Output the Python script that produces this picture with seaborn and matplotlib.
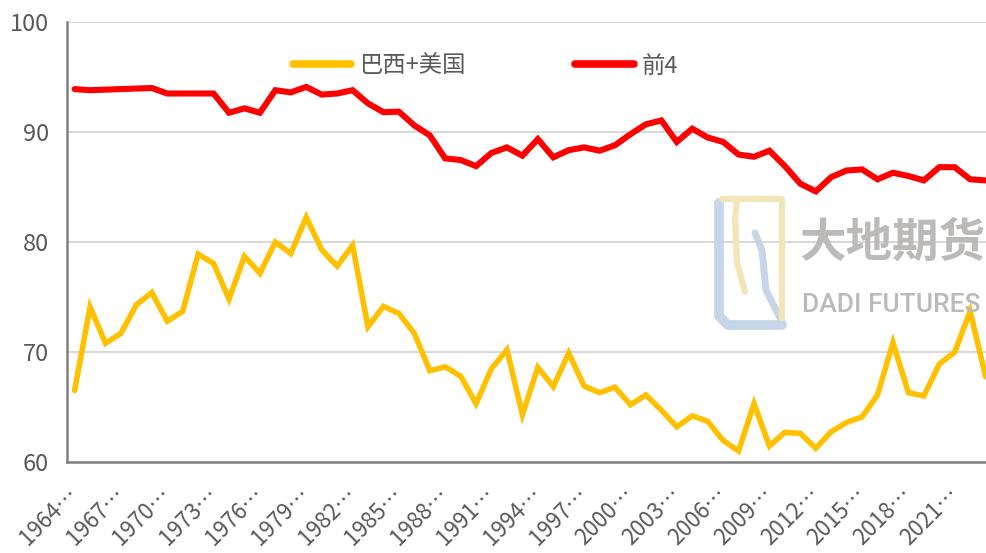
import numpy as np
import pandas as pd
import matplotlib
matplotlib.use("Agg")
import matplotlib.pyplot as plt
import seaborn as sns
from matplotlib.lines import Line2D

# ------------------- data -------------------
years = list(range(1964, 2024))
brazil_us = [66.5, 74.1, 70.8, 71.7, 74.3, 75.4, 72.8, 73.7, 78.9, 78.05,
             74.8, 78.7, 77.15, 80.0, 78.95, 82.25, 79.3, 77.8, 79.7, 72.3,
             74.15, 73.5, 71.7, 68.3, 68.65, 67.8, 65.3, 68.5, 70.2, 64.3,
             68.6, 66.85, 69.9, 66.9, 66.3, 66.8, 65.2, 66.1, 64.7, 63.2,
             64.2, 63.7, 61.95, 61.0, 65.3, 61.45, 62.7, 62.6, 61.25, 62.75,
             63.6, 64.1, 66.1, 70.85, 66.3, 66.0, 68.9, 70.0, 73.7, 67.75]
top4 = [93.9, 93.8, 93.85, 93.9, 93.95, 94.0, 93.5, 93.5, 93.5, 93.5,
        91.75, 92.15, 91.75, 93.8, 93.6, 94.1, 93.4, 93.5, 93.8, 92.6,
        91.8, 91.85, 90.6, 89.7, 87.6, 87.45, 86.9, 88.1, 88.6, 87.85,
        89.35, 87.7, 88.35, 88.6, 88.3, 88.8, 89.8, 90.7, 91.05, 89.1,
        90.3, 89.5, 89.1, 87.95, 87.75, 88.3, 86.9, 85.3, 84.6, 85.9,
        86.5, 86.6, 85.7, 86.3, 86.0, 85.6, 86.8, 86.8, 85.7, 85.6]
series_names = ["巴西+美国", "前4"]
tick_years = years[::3]
tick_labels = [f"{y}…" for y in tick_years]

df = pd.DataFrame({
    "year": years * 2,
    "value": brazil_us + top4,
    "series": [series_names[0]] * len(years) + [series_names[1]] * len(years),
})

# ------------------- style -------------------
sns.set_style("white")
plt.rcParams["font.family"] = ["Noto Sans CJK SC", "DejaVu Sans"]
grey_txt = "#595959"
grey_axis = "#808080"

W, H = 987, 553
fig = plt.figure(figsize=(W / 100, H / 100), dpi=100)


def fx(px):
    return px / W


def fy(py):
    return (H - py) / H


ax = fig.add_axes([fx(66.9), fy(462), 1 - fx(66.9), fy(22) - fy(462)])

sns.lineplot(data=df, x="year", y="value", hue="series", hue_order=series_names,
             palette=["#FFC000", "#FF0000"], linewidth=4, ax=ax,
             solid_capstyle="round", solid_joinstyle="miter", legend=True)
ax.lines[0].set_linewidth(4.0)
ax.lines[1].set_linewidth(4.4)

ax.set_ylim(60, 100)
ax.set_yticks([60, 70, 80, 90, 100])
ax.set_xlim(1963.5, 2023.09)
ax.set_xticks(tick_years)
ax.set_xticklabels(tick_labels, rotation=45, ha="right", va="center",
                   rotation_mode="anchor")
ax.set_xticks([y + 0.5 for y in years[:-1]], minor=True)
ax.set_xlabel("")
ax.set_ylabel("")

ax.grid(axis="y", color="#d9d9d9", linewidth=1.5)
ax.set_axisbelow(True)
for s in ["top", "right"]:
    ax.spines[s].set_visible(False)
for s in ["left", "bottom"]:
    ax.spines[s].set_color(grey_axis)
    ax.spines[s].set_linewidth(1.8)

ax.tick_params(axis="y", direction="in", length=7, width=1.3, color=grey_axis,
               labelsize=17, labelcolor=grey_txt, pad=13)
ax.tick_params(axis="x", which="major", length=0, labelsize=16,
               labelcolor=grey_txt, pad=20.5)
ax.tick_params(axis="x", which="minor", direction="in", length=7, width=1.3,
               color=grey_axis)

handles, labels = ax.get_legend_handles_labels()
ax.get_legend().remove()
fig.legend(handles, labels, loc="center left", bbox_to_anchor=(fx(292.7), fy(66)),
           ncol=2, frameon=False, fontsize=16.8, labelcolor=grey_txt,
           handlelength=2.5, handletextpad=0.35, columnspacing=4.7,
           borderpad=0, borderaxespad=0)
for h in fig.legends[0].get_lines():
    h.set_linewidth(5.5)
    h.set_solid_capstyle("round")

# ------------------- watermark -------------------
wm_grey = "#bcb9b9"
fig.text(fx(799), fy(243), "大地期货", fontsize=33.5, fontweight="bold",
         color=wm_grey, ha="left", va="center", zorder=0.5)
fig.text(fx(802), fy(305), "DADI FUTURES", family="Roboto", fontsize=19,
         fontweight="medium", color=wm_grey, ha="left", va="center", zorder=0.5)
logo_blue = "#c6d6e8"
logo_yellow = "#f2e6b8"
fig.add_artist(Line2D([fx(719), fx(719), fx(728), fx(782)],
                      [fy(203), fy(316), fy(325), fy(325)],
                      color=logo_blue, linewidth=7, solid_joinstyle="round"))
fig.add_artist(Line2D([fx(755), fx(762), fx(766), fx(782)],
                      [fy(233), fy(250), fy(290), fy(322)],
                      color=logo_blue, linewidth=5, solid_capstyle="round"))
fig.add_artist(Line2D([fx(745), fx(737), fx(735), fx(737)],
                      [fy(292), fy(262), fy(220), fy(199)],
                      color=logo_yellow, linewidth=4.5))
fig.add_artist(Line2D([fx(722), fx(782), fx(782)],
                      [fy(199), fy(199), fy(318)],
                      color=logo_yellow, linewidth=4.5))

fig.savefig("out.png", dpi=100)
